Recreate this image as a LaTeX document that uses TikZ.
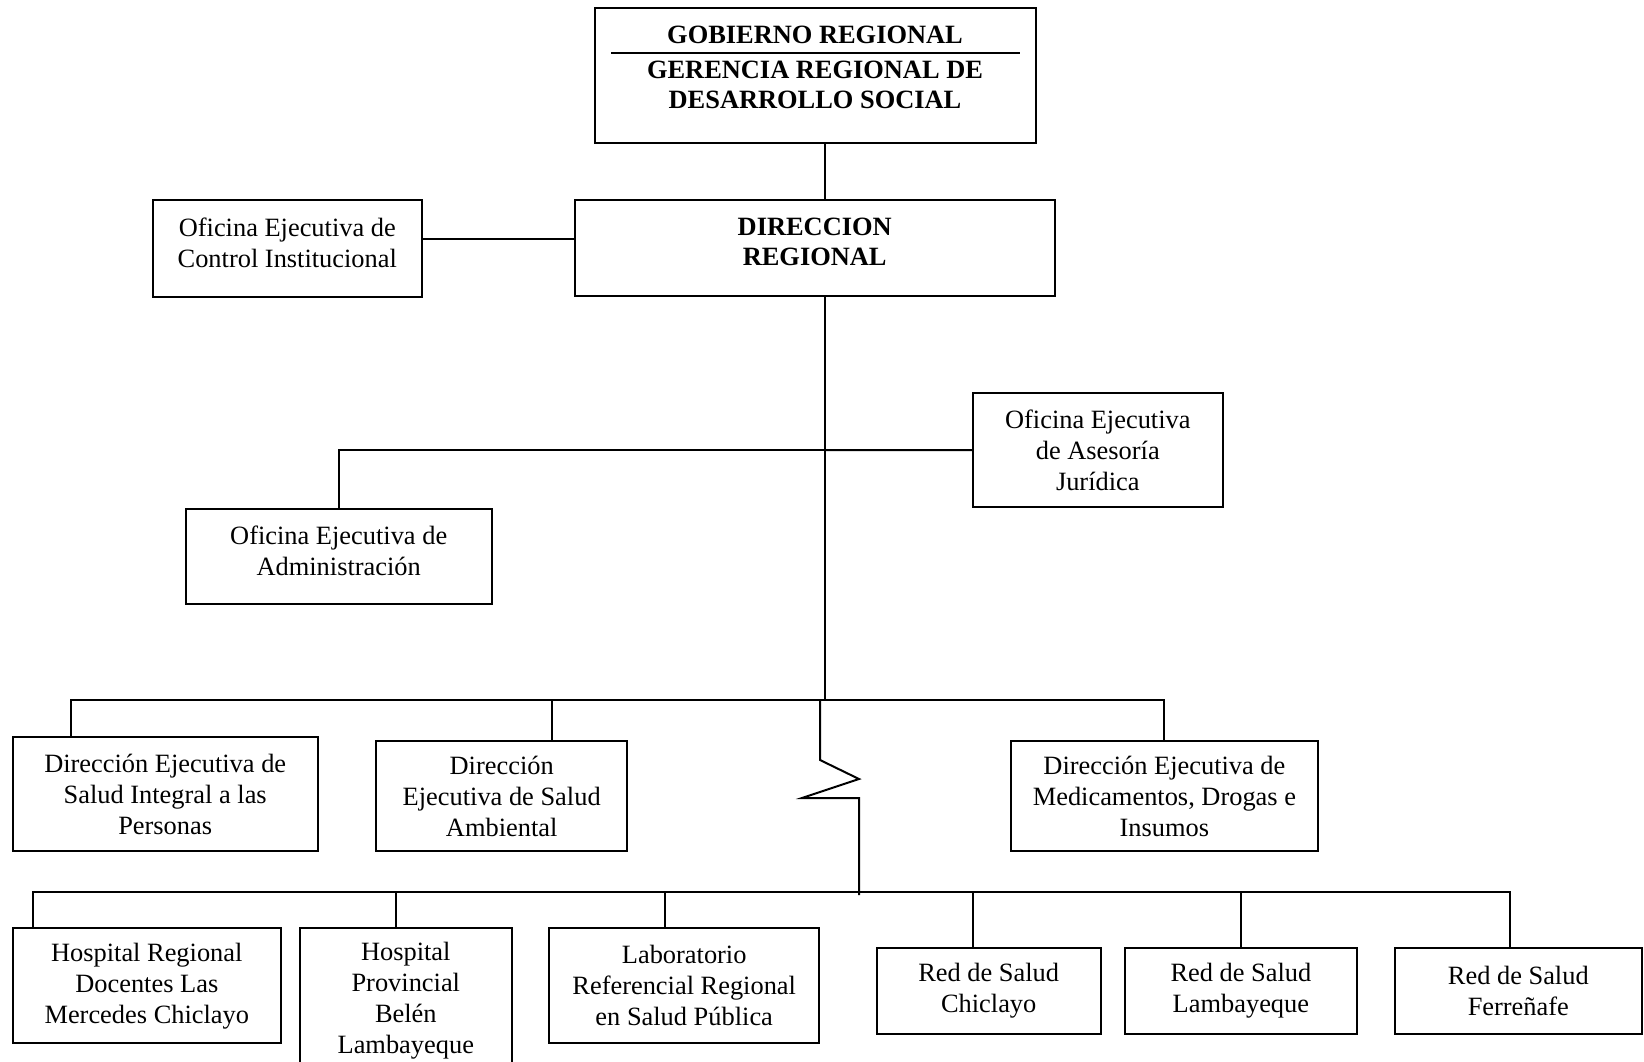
\documentclass[tikz,border=0pt]{standalone}
\usepackage{fontspec}
\setmainfont{Liberation Serif}
\begin{document}
\begin{tikzpicture}[x=1pt,y=-1pt,
  box/.style={draw, line width=2pt, align=center, inner sep=4pt, font=\fontsize{26.4}{31}\selectfont},
  upbox/.style={box, text depth=12pt},
  btext/.style={align=center, inner sep=0pt, font=\fontsize{26.4}{30}\selectfont\bfseries},
  conn/.style={line width=2pt}]
\useasboundingbox (0,0) rectangle (1644,1062);
\fill[white] (0,0) rectangle (1644,1062);
\clip (0,0) rectangle (1644,1062);

% top box
\node[box, minimum width=441.5pt, minimum height=134.2pt] (gob) at (815.3,75.5) {};
\node[btext] (gobt) at (815,35) {GOBIERNO REGIONAL};
\coordinate (sepl) at (611,53);
\coordinate (sepr) at (1020,53);
\draw[conn] (sepl) -- (sepr);
\node[btext] (gert) at (815,85) {GERENCIA REGIONAL DE\\DESARROLLO SOCIAL};

% second level
\node[upbox, minimum width=480.2pt, minimum height=95.4pt, font=\fontsize{26.4}{30}\selectfont\bfseries] (dir) at (814.7,248) {DIRECCION\\REGIONAL};
\node[upbox, minimum width=268.5pt, minimum height=96.4pt] (oec) at (287.3,248.5) {Oficina Ejecutiva de\\Control Institucional};
\node[box, minimum width=249.6pt, minimum height=114.5pt] (oaj) at (1097.8,450.2) {Oficina Ejecutiva\\de Asesoría\\Jurídica};
\node[upbox, minimum width=306.1pt, minimum height=95.5pt] (oea) at (338.7,556.3) {Oficina Ejecutiva de\\Administración};

% third level
\node[box, minimum width=305.1pt, minimum height=114.4pt] (desip) at (165.2,794.2) {Dirección Ejecutiva de\\Salud Integral a las\\Personas};
\node[box, minimum width=250.6pt, minimum height=110.1pt] (desa) at (501.7,796.4) {Dirección\\Ejecutiva de Salud\\Ambiental};
\node[box, minimum width=307.2pt, minimum height=110.1pt] (demid) at (1164.4,796.4) {Dirección Ejecutiva de\\Medicamentos, Drogas e\\Insumos};

% bottom level
\node[box, minimum width=268.4pt, minimum height=115.3pt] (hrd) at (146.8,985.7) {Hospital Regional\\Docentes Las\\Mercedes Chiclayo};
\node[box, minimum width=211.8pt, minimum height=146pt] (hpb) at (405.8,1001) {Hospital\\Provincial\\Belén\\Lambayeque};
\node[box, minimum width=269.5pt, minimum height=115.3pt] (lab) at (684.2,985.7) {Laboratorio\\Referencial Regional\\en Salud Pública};
\node[box, minimum width=224.4pt, minimum height=86pt] (rc) at (988.7,990.8) {Red de Salud\\Chiclayo};
\node[box, minimum width=231.8pt, minimum height=86pt] (rl) at (1240.9,990.8) {Red de Salud\\Lambayeque};
\node[box, minimum width=247.5pt, minimum height=86pt] (rf) at (1518.3,990.8) {Red de Salud\\Ferreñafe};

% connectors
\coordinate (mx) at (825,0);
\coordinate (j1) at (825,450);
\coordinate (b2) at (825,700);
\draw[conn] (gob.south -| mx) -- (dir.north -| mx);
\draw[conn] ([yshift=9.5pt]oec.east) -- ([yshift=9.5pt]oec.east -| dir.west);
\draw[conn] (dir.south -| mx) -- (b2);
\draw[conn] (j1) -- (oaj.west);
\draw[conn] (oea.north) |- (j1);

\coordinate (b2l) at (71.3,700);
\coordinate (b2a) at (551.5,700);
\coordinate (b2r) at (1163.8,700);
\draw[conn] (b2l |- desip.north) -- (b2l) -- (b2r) -- (b2r |- demid.north);
\draw[conn] (b2a) -- (b2a |- desa.north);

% zigzag
\coordinate (z0) at (820,700);
\coordinate (z1) at (820,760);
\coordinate (z2) at (859,779);
\coordinate (z3) at (802,798);
\coordinate (z4) at (859,798);
\coordinate (z5) at (859,895);
\draw[conn] (z0) -- (z1) -- (z2) -- (z3) -- (z4) -- (z5);

% bottom bus
\coordinate (b3l) at (32.5,892);
\coordinate (b3r) at (1510,892);
\draw[conn] (b3l |- hrd.north) -- (b3l) -- (b3r) -- (b3r |- rf.north);
\coordinate (b3a) at (396.3,892);
\coordinate (b3b) at (664.7,892);
\coordinate (b3c) at (973,892);
\coordinate (b3d) at (1241.4,892);
\draw[conn] (b3a) -- (b3a |- hpb.north);
\draw[conn] (b3b) -- (b3b |- lab.north);
\draw[conn] (b3c) -- (b3c |- rc.north);
\draw[conn] (b3d) -- (b3d |- rl.north);
\end{tikzpicture}
\end{document}
